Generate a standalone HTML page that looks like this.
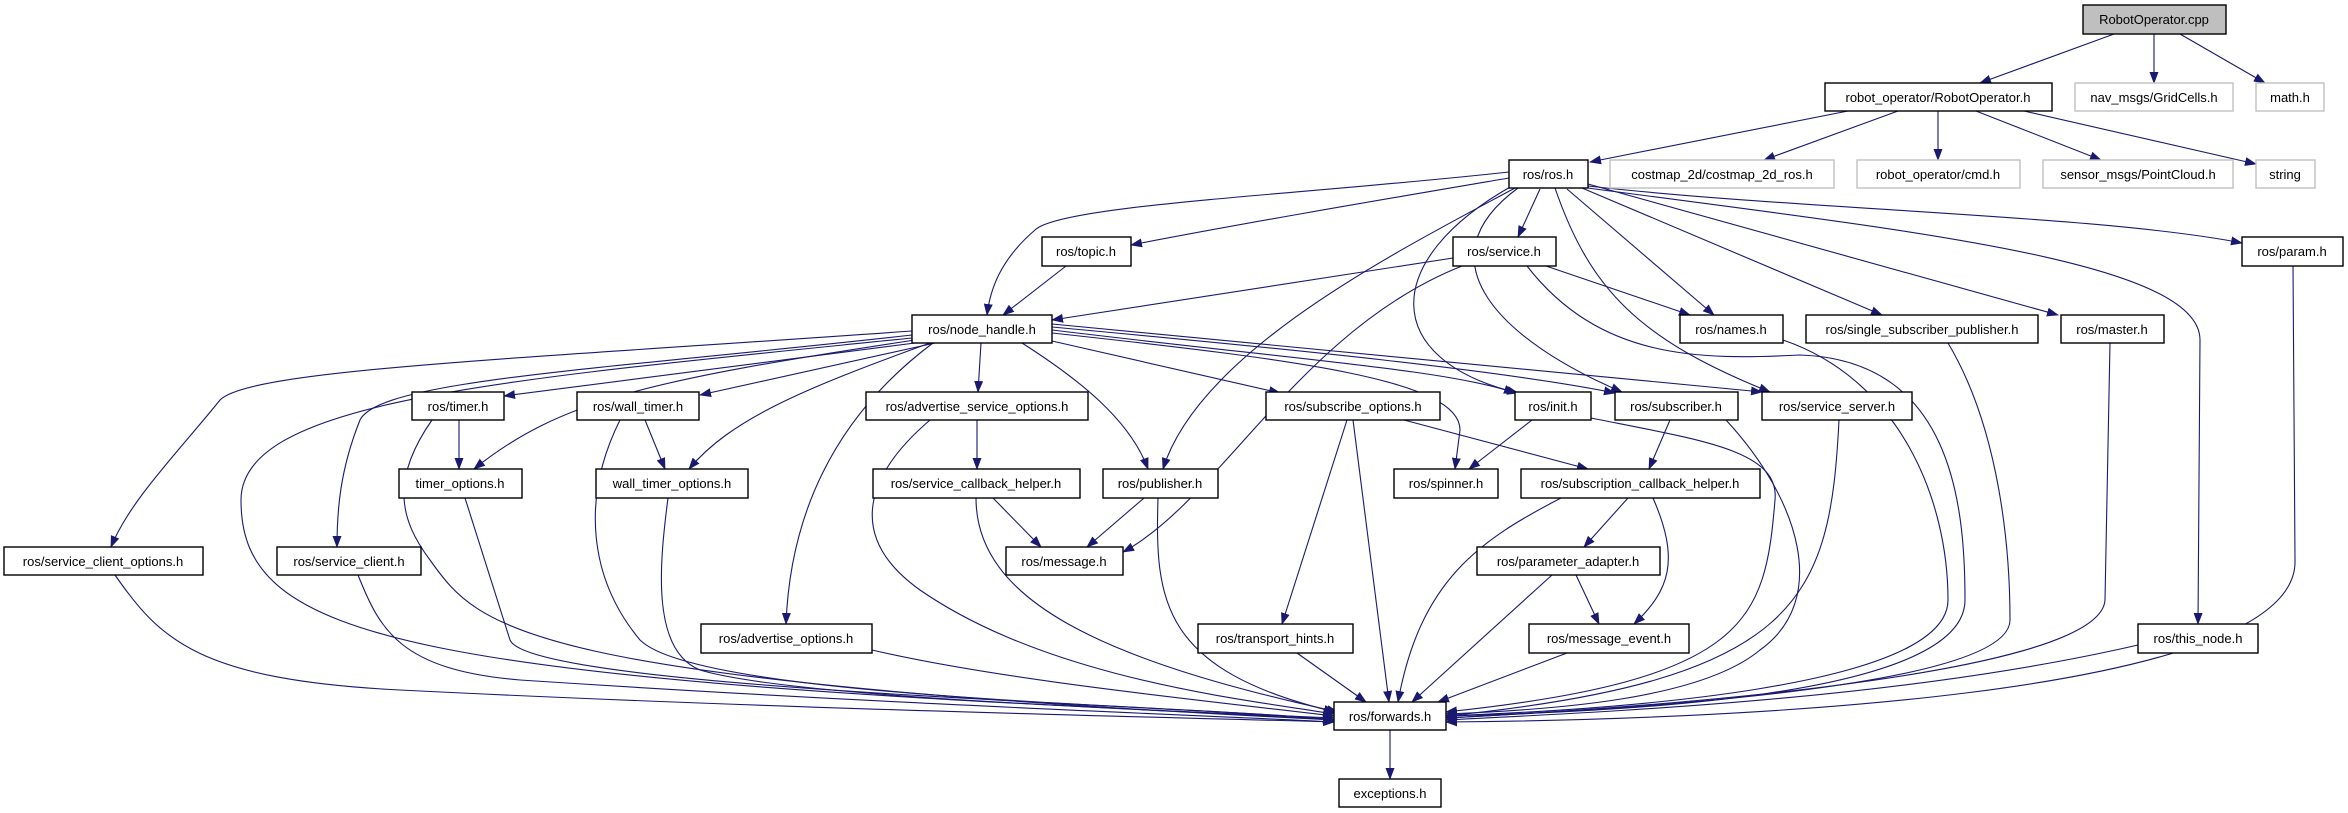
<!DOCTYPE html>
<html><head><meta charset="utf-8"><style>
html,body{margin:0;padding:0;background:#fff;}
svg{display:block;}
text{font-family:"Liberation Sans",sans-serif;font-size:13px;text-anchor:middle;fill:#000;}
.b{fill:#fff;stroke:#000;stroke-width:1.4;}
.g{fill:#fff;stroke:#c0c0c0;stroke-width:1.4;}
.e{fill:none;stroke:#191970;stroke-width:1.1;marker-end:url(#a);}
</style></head><body>
<svg width="2348" height="813" viewBox="0 0 2348 813" xmlns="http://www.w3.org/2000/svg">
<defs><marker id="a" markerUnits="userSpaceOnUse" markerWidth="12" markerHeight="9" refX="11" refY="4.5" orient="auto"><path d="M0,0 L12,4.5 L0,9 z" fill="#191970"/></marker></defs>
<g>
<path class="e" d="M2114,34 L1980,83"/>
<path class="e" d="M2154,34 L2154,83"/>
<path class="e" d="M2180,34 L2265,83"/>
<path class="e" d="M1848,111 L1590,162"/>
<path class="e" d="M1898,111 L1764,160"/>
<path class="e" d="M1938,111 L1938,160"/>
<path class="e" d="M1976,111 L2101,160"/>
<path class="e" d="M2024,111 L2256,164"/>
<path class="e" d="M1509,178 C1380,200 1250,222 1131,245"/>
<path class="e" d="M1509,172 C1300,195 1060,205 1035,230 C1000,260 990,290 987,315"/>
<path class="e" d="M1540,189 L1518,237"/>
<path class="e" d="M1515,188 C1400,250 1200,350 1163,469"/>
<path class="e" d="M1512,186 C1380,260 1380,360 1518,393"/>
<path class="e" d="M1518,188 C1420,260 1500,340 1622,392"/>
<path class="e" d="M1567,189 L1714,315"/>
<path class="e" d="M1582,188 L1882,315"/>
<path class="e" d="M1588,184 L2058,315"/>
<path class="e" d="M1555,188 C1590,290 1640,340 1770,392"/>
<path class="e" d="M1588,186 C1800,210 2100,215 2242,243"/>
<path class="e" d="M1588,188 C1900,230 2200,260 2200,340 L2198,624"/>
<path class="e" d="M1462,266 C1300,330 1220,500 1123,552"/>
<path class="e" d="M1453,258 L1052,320"/>
<path class="e" d="M1546,266 L1690,315"/>
<path class="e" d="M1527,266 C1600,360 1700,360 1800,355 C1950,360 1965,500 1965,600 C1965,700 1600,712 1446,716"/>
<path class="e" d="M1783,340 C1900,380 1948,500 1948,600 C1948,690 1600,710 1446,716"/>
<path class="e" d="M1948,343 C2000,430 2010,550 2010,620 C2010,690 1600,710 1446,718"/>
<path class="e" d="M2110,343 L2105,600 C2100,680 1600,710 1446,718"/>
<path class="e" d="M2293,266 L2295,560 C2300,700 1700,720 1446,722"/>
<path class="e" d="M2138,645 C1900,700 1600,712 1446,720"/>
<path class="e" d="M1066,266 L1003,315"/>
<path class="e" d="M912,331 C500,360 250,370 220,400 C180,450 130,500 111,547"/>
<path class="e" d="M912,335 C600,370 380,380 360,420 C340,470 337,510 337,547"/>
<path class="e" d="M912,338 C500,380 241,400 241,500 C241,640 400,680 1334,718"/>
<path class="e" d="M915,343 L504,396"/>
<path class="e" d="M915,340 C650,380 560,400 474,469"/>
<path class="e" d="M935,343 L700,395"/>
<path class="e" d="M930,343 C800,390 730,420 689,469"/>
<path class="e" d="M933,343 C830,420 790,520 786,624"/>
<path class="e" d="M981,343 L978,392"/>
<path class="e" d="M1022,343 C1080,380 1130,420 1148,469"/>
<path class="e" d="M1052,341 L1280,393"/>
<path class="e" d="M1052,333 C1300,360 1460,380 1460,430 L1455,469"/>
<path class="e" d="M1052,330 C1300,360 1450,370 1515,393"/>
<path class="e" d="M1052,327 C1300,350 1500,370 1615,393"/>
<path class="e" d="M1052,324 L1762,392"/>
<path class="e" d="M459,420 L459,469"/>
<path class="e" d="M432,420 C390,480 400,520 430,560 C480,630 520,680 1334,720"/>
<path class="e" d="M645,420 L665,469"/>
<path class="e" d="M620,420 C580,500 590,580 640,640 C700,700 1200,705 1334,720"/>
<path class="e" d="M465,498 L510,640 C530,690 1200,705 1334,720"/>
<path class="e" d="M668,498 C660,560 650,650 700,670 C800,700 1200,710 1334,720"/>
<path class="e" d="M115,575 C160,640 200,680 400,690 C800,710 1200,718 1334,722"/>
<path class="e" d="M358,575 C380,630 400,670 520,680 C900,705 1200,715 1334,722"/>
<path class="e" d="M872,650 C1000,680 1200,700 1334,716"/>
<path class="e" d="M977,420 L977,469"/>
<path class="e" d="M930,420 C860,480 850,540 920,590 C1050,680 1250,700 1334,714"/>
<path class="e" d="M993,498 L1041,547"/>
<path class="e" d="M976,498 C976,600 1100,660 1338,712"/>
<path class="e" d="M1144,498 L1087,547"/>
<path class="e" d="M1158,498 C1155,600 1160,670 1335,712"/>
<path class="e" d="M1347,420 L1282,624"/>
<path class="e" d="M1353,420 L1389,702"/>
<path class="e" d="M1404,420 L1588,469"/>
<path class="e" d="M1532,420 L1469,469"/>
<path class="e" d="M1591,418 C1700,440 1780,450 1775,500 C1765,620 1750,680 1446,712"/>
<path class="e" d="M1670,420 L1649,469"/>
<path class="e" d="M1726,420 C1800,500 1830,600 1760,650 C1700,700 1550,710 1446,714"/>
<path class="e" d="M1839,420 C1830,600 1800,680 1446,716"/>
<path class="e" d="M1561,498 C1480,540 1420,580 1398,702"/>
<path class="e" d="M1628,498 L1584,547"/>
<path class="e" d="M1653,498 C1680,560 1670,590 1634,624"/>
<path class="e" d="M1552,575 L1412,702"/>
<path class="e" d="M1576,575 L1599,624"/>
<path class="e" d="M1567,653 L1438,702"/>
<path class="e" d="M1297,653 L1366,702"/>
<path class="e" d="M1390,730 L1390,779"/>
</g>
<g>
<rect x="2083" y="5" width="143" height="29" fill="#bfbfbf" stroke="#000" stroke-width="1.4"/><text x="2154" y="24">RobotOperator.cpp</text>
<rect class="b" x="1825" y="83" width="227" height="28"/><text x="1938" y="102">robot_operator/RobotOperator.h</text>
<rect class="g" x="2075" y="83" width="158" height="28"/><text x="2154" y="102" fill="#000">nav_msgs/GridCells.h</text>
<rect class="g" x="2256" y="83" width="68" height="28"/><text x="2290" y="102">math.h</text>
<rect class="b" x="1509" y="160" width="79" height="28"/><text x="1548" y="179">ros/ros.h</text>
<rect class="g" x="1610" y="160" width="224" height="28"/><text x="1722" y="179">costmap_2d/costmap_2d_ros.h</text>
<rect class="g" x="1857" y="160" width="163" height="28"/><text x="1938" y="179">robot_operator/cmd.h</text>
<rect class="g" x="2043" y="160" width="190" height="28"/><text x="2138" y="179">sensor_msgs/PointCloud.h</text>
<rect class="g" x="2256" y="160" width="59" height="28"/><text x="2285" y="179">string</text>
<rect class="b" x="1042" y="237" width="89" height="29"/><text x="1086" y="256">ros/topic.h</text>
<rect class="b" x="1453" y="237" width="103" height="29"/><text x="1504" y="256">ros/service.h</text>
<rect class="b" x="2242" y="237" width="101" height="29"/><text x="2292" y="256">ros/param.h</text>
<rect class="b" x="912" y="315" width="140" height="28"/><text x="982" y="334">ros/node_handle.h</text>
<rect class="b" x="1680" y="315" width="103" height="28"/><text x="1731" y="334">ros/names.h</text>
<rect class="b" x="1806" y="315" width="232" height="28"/><text x="1922" y="334">ros/single_subscriber_publisher.h</text>
<rect class="b" x="2061" y="315" width="103" height="28"/><text x="2112" y="334">ros/master.h</text>
<rect class="b" x="412" y="392" width="92" height="28"/><text x="458" y="411">ros/timer.h</text>
<rect class="b" x="577" y="392" width="122" height="28"/><text x="638" y="411">ros/wall_timer.h</text>
<rect class="b" x="866" y="392" width="222" height="28"/><text x="977" y="411">ros/advertise_service_options.h</text>
<rect class="b" x="1266" y="392" width="174" height="28"/><text x="1353" y="411">ros/subscribe_options.h</text>
<rect class="b" x="1515" y="392" width="76" height="28"/><text x="1553" y="411">ros/init.h</text>
<rect class="b" x="1615" y="392" width="123" height="28"/><text x="1676" y="411">ros/subscriber.h</text>
<rect class="b" x="1762" y="392" width="150" height="28"/><text x="1837" y="411">ros/service_server.h</text>
<rect class="b" x="399" y="469" width="123" height="29"/><text x="460" y="488">timer_options.h</text>
<rect class="b" x="596" y="469" width="152" height="29"/><text x="672" y="488">wall_timer_options.h</text>
<rect class="b" x="873" y="469" width="207" height="29"/><text x="976" y="488">ros/service_callback_helper.h</text>
<rect class="b" x="1103" y="469" width="115" height="29"/><text x="1160" y="488">ros/publisher.h</text>
<rect class="b" x="1394" y="469" width="104" height="29"/><text x="1446" y="488">ros/spinner.h</text>
<rect class="b" x="1521" y="469" width="239" height="29"/><text x="1640" y="488">ros/subscription_callback_helper.h</text>
<rect class="b" x="4" y="547" width="199" height="28"/><text x="103" y="566">ros/service_client_options.h</text>
<rect class="b" x="277" y="547" width="144" height="28"/><text x="349" y="566">ros/service_client.h</text>
<rect class="b" x="1006" y="547" width="117" height="28"/><text x="1064" y="566">ros/message.h</text>
<rect class="b" x="1477" y="547" width="183" height="28"/><text x="1568" y="566">ros/parameter_adapter.h</text>
<rect class="b" x="701" y="624" width="171" height="29"/><text x="786" y="643">ros/advertise_options.h</text>
<rect class="b" x="1198" y="624" width="155" height="29"/><text x="1275" y="643">ros/transport_hints.h</text>
<rect class="b" x="1529" y="624" width="160" height="29"/><text x="1609" y="643">ros/message_event.h</text>
<rect class="b" x="2138" y="624" width="120" height="29"/><text x="2198" y="643">ros/this_node.h</text>
<rect class="b" x="1334" y="702" width="112" height="28"/><text x="1390" y="721">ros/forwards.h</text>
<rect class="b" x="1339" y="779" width="102" height="28"/><text x="1390" y="798">exceptions.h</text>
</g>
</svg>
</body></html>
